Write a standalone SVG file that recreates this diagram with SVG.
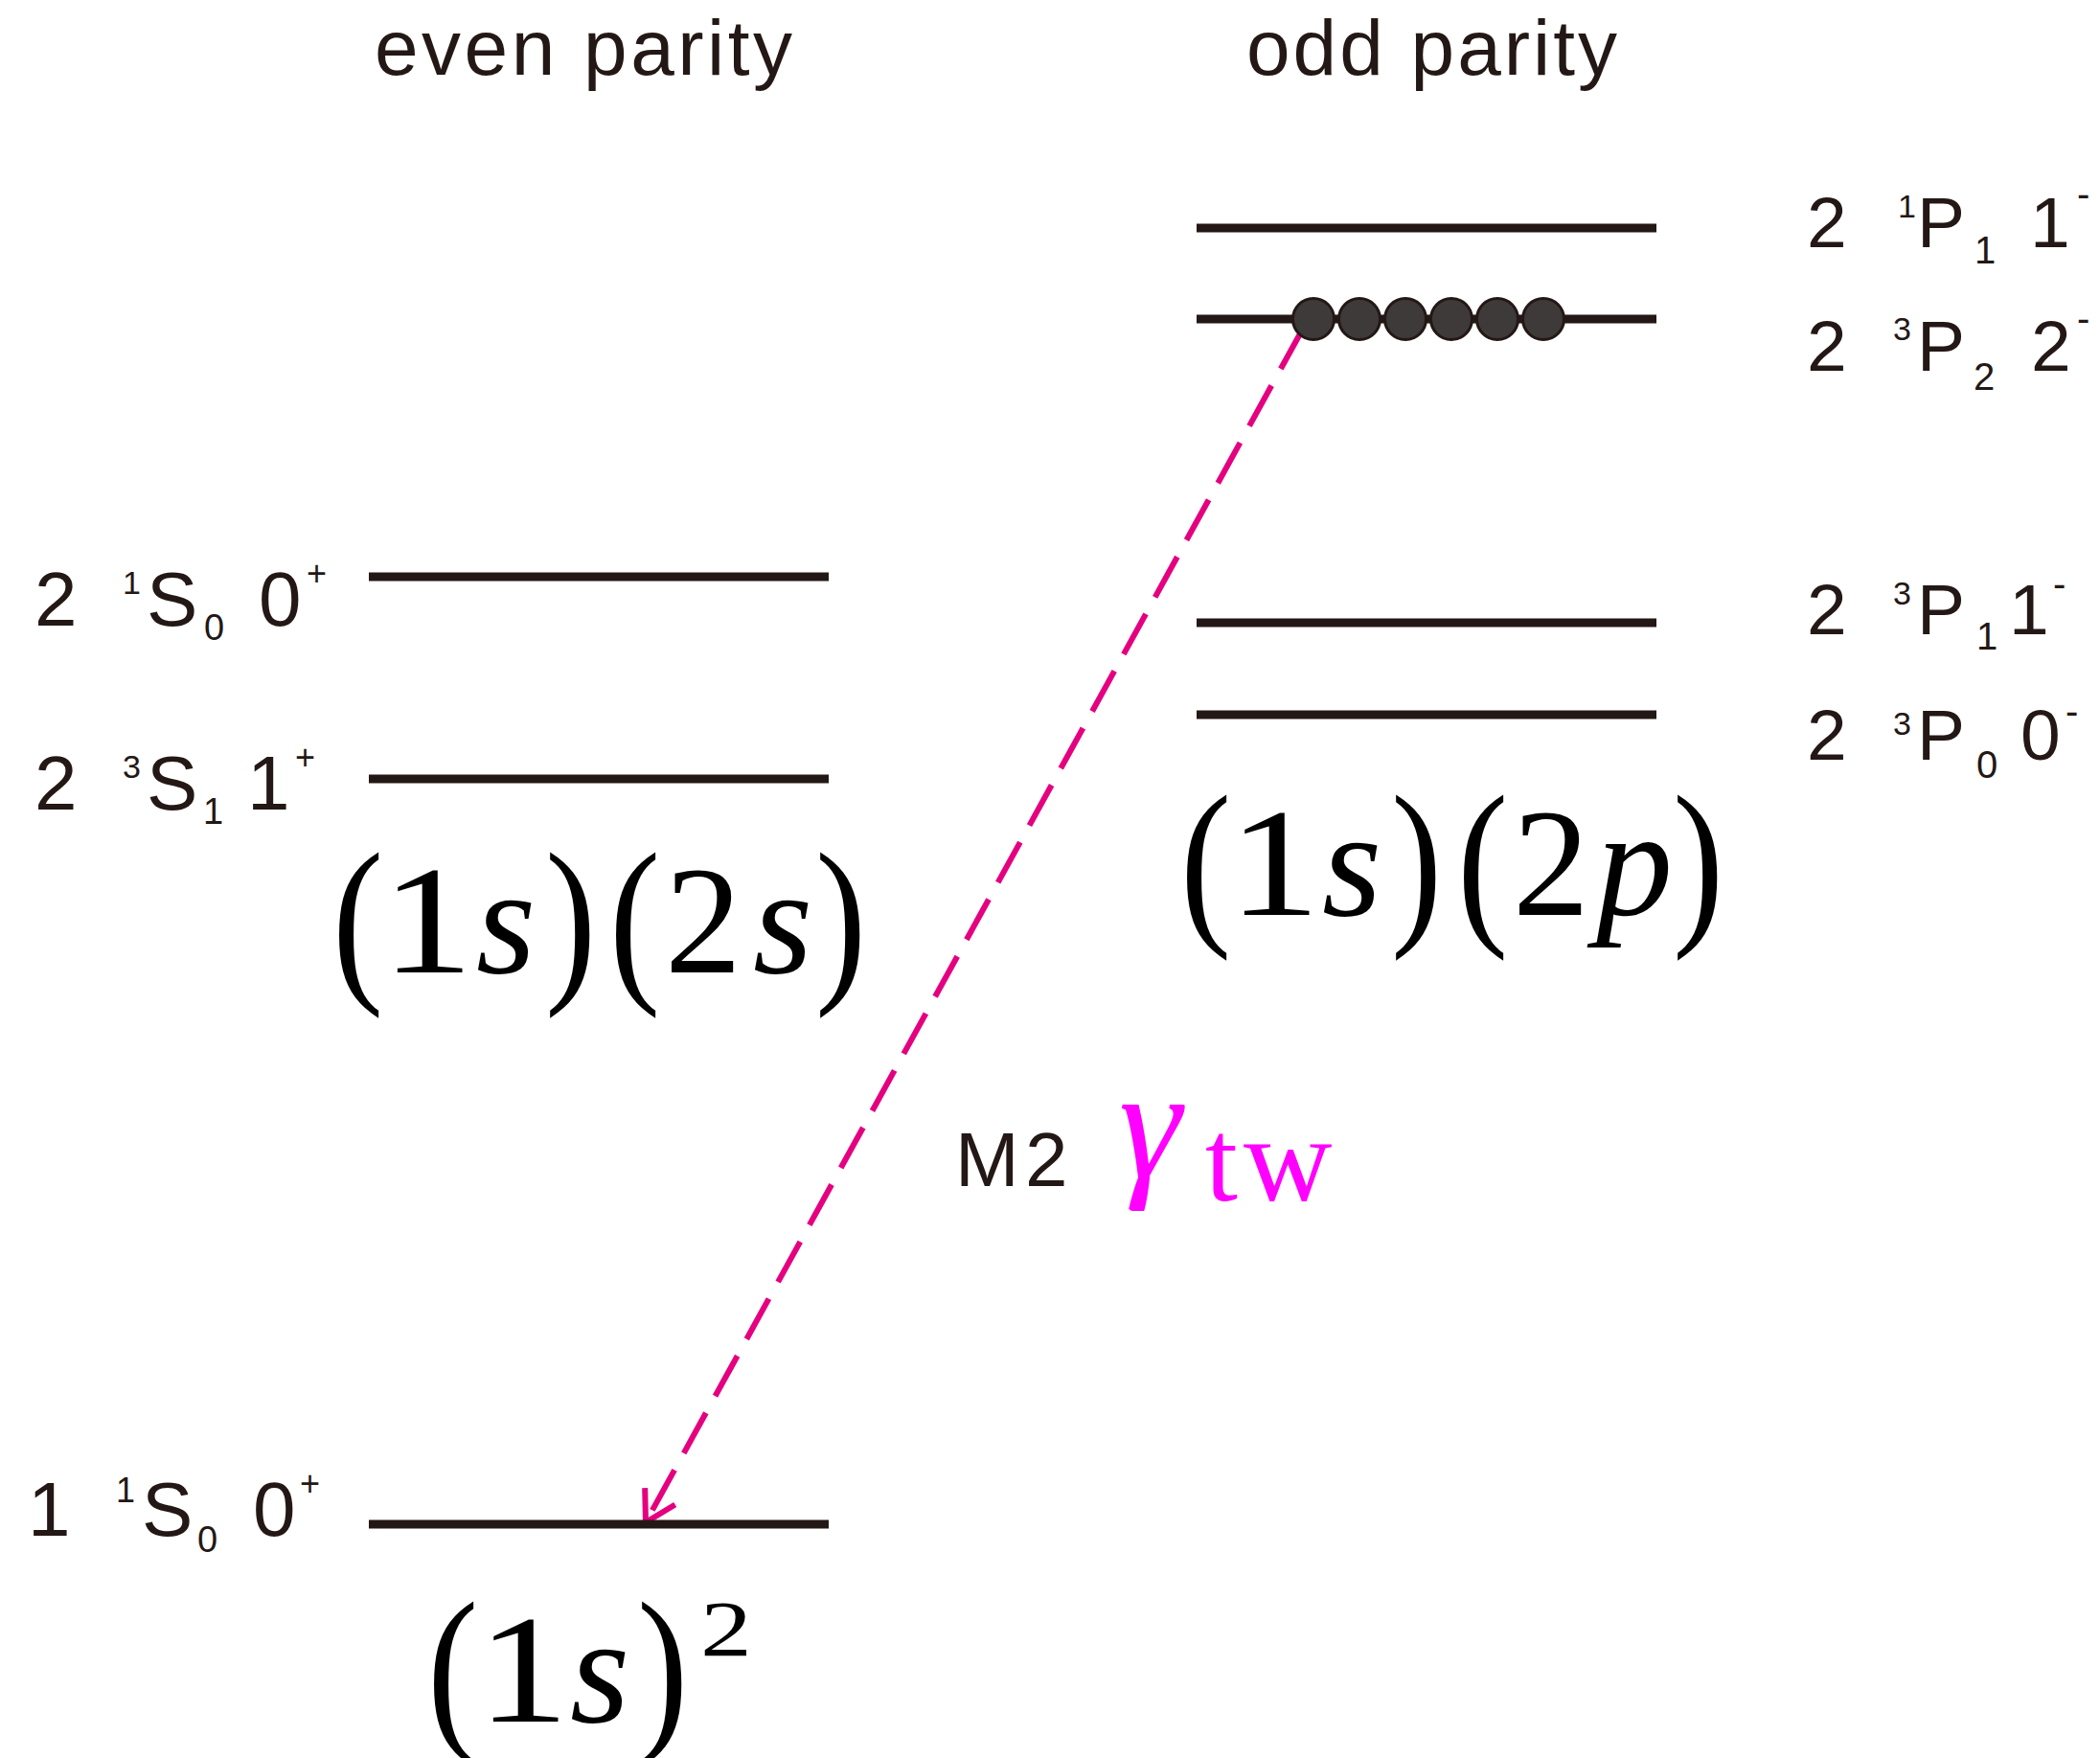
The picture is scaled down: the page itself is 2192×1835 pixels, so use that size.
<svg xmlns="http://www.w3.org/2000/svg" width="2192" height="1835" viewBox="0 0 2192 1835">
<style>
.lvl{stroke:#231815;stroke-width:9;fill:none}
.sans{font-family:"Liberation Sans",Arial,sans-serif;fill:#231815}
.serif{font-family:"Liberation Serif","Times New Roman",serif;fill:#000;font-size:160px}
.it{font-style:italic}
.dot{fill:#3e3a39;stroke:#231815;stroke-width:3}
.tr{stroke:#e4007f;stroke-width:6;fill:none;stroke-dasharray:48 20}
</style>
<defs>
<marker id="ah" markerUnits="userSpaceOnUse" markerWidth="80" markerHeight="80" refX="0" refY="0" viewBox="-40 -40 80 80" orient="auto" overflow="visible">
<path d="M-31,-18 L0,0 L-31,18" fill="none" stroke="#e4007f" stroke-width="6" stroke-dasharray="none"/>
</marker>
</defs>
<rect width="2192" height="1835" fill="#fff"/>

<g id="headers">
<text class="sans" x="391" y="78" font-size="82" letter-spacing="3.5">even parity</text>
<text class="sans" x="1301" y="78" font-size="82" letter-spacing="3">odd parity</text>
</g>

<g id="connectors">
<line class="tr" x1="1360" y1="343" x2="674" y2="1589" marker-end="url(#ah)"/>
</g>

<g id="level-1S0-ground">
<line class="lvl" x1="385" y1="1591" x2="865" y2="1591"/>
<text class="sans" font-size="80"><tspan x="29" y="1603">1</tspan><tspan x="121" y="1568" font-size="36">1</tspan><tspan x="148" y="1603">S</tspan><tspan x="206" y="1620" font-size="38">0</tspan><tspan x="264" y="1603">0</tspan><tspan x="313" y="1561" font-size="36">+</tspan></text>
</g>

<g id="level-2-1S0">
<line class="lvl" x1="385" y1="602" x2="865" y2="602"/>
<text class="sans" font-size="80"><tspan x="36" y="653">2</tspan><tspan x="128" y="620" font-size="34">1</tspan><tspan x="153" y="653">S</tspan><tspan x="213" y="668" font-size="38">0</tspan><tspan x="270" y="653">0</tspan><tspan x="320" y="611" font-size="36">+</tspan></text>
</g>

<g id="level-2-3S1">
<line class="lvl" x1="385" y1="813" x2="865" y2="813"/>
<text class="sans" font-size="80"><tspan x="36" y="845">2</tspan><tspan x="128" y="812" font-size="34">3</tspan><tspan x="153" y="845">S</tspan><tspan x="212" y="860" font-size="38">1</tspan><tspan x="258" y="845">1</tspan><tspan x="308" y="803" font-size="36">+</tspan></text>
</g>

<g id="level-2-1P1">
<line class="lvl" x1="1249" y1="238" x2="1729" y2="238"/>
<text class="sans" font-size="75"><tspan x="1886" y="258">2</tspan><tspan x="1981" y="227" font-size="34">1</tspan><tspan x="2001" y="258">P</tspan><tspan x="2061" y="275" font-size="40">1</tspan><tspan x="2119" y="258">1</tspan><tspan x="2168" y="216" font-size="40">-</tspan></text>
</g>

<g id="level-2-3P2">
<line class="lvl" x1="1249" y1="333" x2="1729" y2="333"/>
<text class="sans" font-size="75"><tspan x="1886" y="387">2</tspan><tspan x="1976" y="355" font-size="34">3</tspan><tspan x="2001" y="387">P</tspan><tspan x="2060" y="407" font-size="40">2</tspan><tspan x="2120" y="387">2</tspan><tspan x="2168" y="346" font-size="40">-</tspan></text>
<circle class="dot" cx="1371" cy="333" r="21.5"/>
<circle class="dot" cx="1419" cy="333" r="21.5"/>
<circle class="dot" cx="1467" cy="333" r="21.5"/>
<circle class="dot" cx="1515" cy="333" r="21.5"/>
<circle class="dot" cx="1563" cy="333" r="21.5"/>
<circle class="dot" cx="1611" cy="333" r="21.5"/>
</g>

<g id="level-2-3P1">
<line class="lvl" x1="1249" y1="650" x2="1729" y2="650"/>
<text class="sans" font-size="75"><tspan x="1886" y="662">2</tspan><tspan x="1976" y="631" font-size="34">3</tspan><tspan x="2001" y="662">P</tspan><tspan x="2063" y="678" font-size="40">1</tspan><tspan x="2097" y="662">1</tspan><tspan x="2143" y="623" font-size="40">-</tspan></text>
</g>

<g id="level-2-3P0">
<line class="lvl" x1="1249" y1="746" x2="1729" y2="746"/>
<text class="sans" font-size="75"><tspan x="1886" y="793">2</tspan><tspan x="1976" y="767" font-size="34">3</tspan><tspan x="2001" y="793">P</tspan><tspan x="2063" y="812" font-size="40">0</tspan><tspan x="2109" y="793">0</tspan><tspan x="2156" y="756" font-size="40">-</tspan></text>
</g>

<g id="config-1s2s">
<text class="serif" transform="translate(347,1022) scale(1,1.19)">(</text>
<text class="serif" transform="translate(398,1015) scale(1.2,1)">1</text>
<text class="serif it" x="497" y="1015">s</text>
<text class="serif" transform="translate(569,1022) scale(1,1.19)">)</text>
<text class="serif" transform="translate(636,1022) scale(1,1.19)">(</text>
<text class="serif" x="694" y="1015">2</text>
<text class="serif it" x="786" y="1015">s</text>
<text class="serif" transform="translate(851,1022) scale(1,1.19)">)</text>
</g>

<g id="config-1s2p">
<text class="serif" transform="translate(1232,962) scale(1,1.19)">(</text>
<text class="serif" transform="translate(1282,955) scale(1.2,1)">1</text>
<text class="serif it" x="1380" y="955">s</text>
<text class="serif" transform="translate(1452,962) scale(1,1.19)">)</text>
<text class="serif" transform="translate(1521,962) scale(1,1.19)">(</text>
<text class="serif" x="1579" y="955">2</text>
<text class="serif it" x="1666" y="955">p</text>
<text class="serif" transform="translate(1746,962) scale(1,1.19)">)</text>
</g>

<g id="config-1s2">
<text class="serif" transform="translate(446,1804) scale(1,1.19)">(</text>
<text class="serif" transform="translate(498,1797) scale(1.2,1)">1</text>
<text class="serif it" x="595" y="1797">s</text>
<text class="serif" transform="translate(665,1804) scale(1,1.19)">)</text>
<text class="serif" style="font-size:83px" transform="translate(731,1728) scale(1.3,1)">2</text>
</g>

<g id="transition-label">
<text class="sans" font-size="80"><tspan x="997" y="1238">M</tspan><tspan x="1070" y="1238">2</tspan></text>
<text class="serif it" style="fill:#ff00ff;font-size:165px" x="1168" y="1229">γ</text>
<text class="serif" style="fill:#ff00ff;font-size:122px"><tspan x="1258" y="1253">t</tspan><tspan x="1298" y="1253" style="font-size:128px">w</tspan></text>
</g>
</svg>
